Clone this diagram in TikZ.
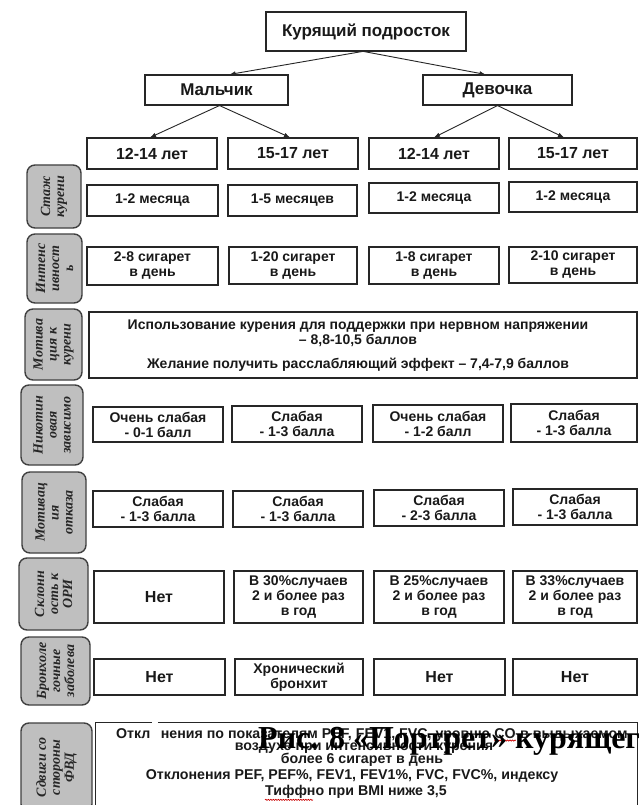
\documentclass[tikz,border=0pt]{standalone}
\usepackage{fontspec}
\setmainfont{Liberation Sans}
\newfontfamily\serifit{Liberation Serif}
\usetikzlibrary{arrows.meta,decorations.pathmorphing}
\newcommand\fsz[2]{\fontsize{#1}{#2}\selectfont\bfseries}
\tikzset{
  cell/.style={draw=black!85, line width=1.1pt, inner sep=1pt, align=center, text=black!90, font=\fsz{14}{15}},
  side/.style={draw=black!75, line width=1.4pt, fill=gray!50, rounded corners=8pt, rotate=90, align=center,
    inner sep=0pt, text=black!85, font=\serifit\bfseries\itshape\fontsize{14}{14}\selectfont},
  arr/.style={-{Latex[length=6pt,width=4.5pt]}, line width=0.9pt, draw=black!85},
  big/.style={font=\fsz{17}{19}},
  age/.style={font=\fsz{16}{18}},
  txt/.style={inner sep=0pt, text=black!90, font=\fsz{14}{15}},
  low/.style={inner sep=0pt, text=black!90, font=\fsz{14.2}{14}, anchor=base west},
  lowc/.style={inner sep=0pt, text=black!90, font=\fsz{14.2}{14}},
  wavy/.style={draw=red!80!black, line width=0.6pt, decorate, decoration={snake, amplitude=0.6pt, segment length=2.5pt}}
}
% \cbox[opts]{name}{x1}{x2}{y1}{y2}{text}
\newcommand\cbox[7][]{\node[cell, #1, minimum width={(#4-#3)*1pt}, minimum height={(#6-#5)*1pt}] (#2) at ({(#3+#4)/2},{(#5+#6)/2}) {#7};}
\newcommand\sidebox[6]{\node[side, minimum width={(#5-#4)*1pt}, minimum height={(#3-#2)*1pt}] (#1) at ({(#2+#3)/2},{(#4+#5)/2}) {#6};}
\begin{document}
\begin{tikzpicture}[x=1pt,y=-1pt]
\useasboundingbox (0,0) rectangle (638,805);
\clip (0,0) rectangle (638,805);
\fill[white] (0,0) rectangle (638,805);

% tree
\cbox[big]{top}{266}{466}{12}{51}{Курящий подросток}
\cbox[big]{boy}{145}{288}{75}{105}{Мальчик}
\cbox[big]{girl}{423}{572}{75}{105}{Девочка}
\cbox[age]{a1}{87}{217}{138}{169}{12-14 лет}
\cbox[age]{a2}{228}{358}{138}{169}{15-17 лет}
\cbox[age]{a3}{369}{499}{138}{169}{12-14 лет}
\cbox[age]{a4}{509}{637}{138}{169}{15-17 лет}

\draw[arr] ([xshift=-4pt]top.south) -- ([xshift=13pt]boy.north);
\draw[arr] ([xshift=-2pt]top.south) -- ([xshift=-12pt]girl.north);
\draw[arr] ([xshift=3pt]boy.south) -- ([xshift=-2pt]a1.north);
\draw[arr] ([xshift=3pt]boy.south) -- ([xshift=-3pt]a2.north);
\draw[arr] (girl.south) -- (a3.north);
\draw[arr] (girl.south) -- ([xshift=-9pt]a4.north);

% row 2
\cbox{b1}{87}{218}{185}{216}{1-2 месяца}
\cbox{b2}{228}{357}{185}{216}{1-5 месяцев}
\cbox{b3}{369}{499}{183}{213}{1-2 месяца}
\cbox{b4}{509}{637}{182}{212}{1-2 месяца}
% row 3
\cbox{c1}{87}{218}{247}{285}{2-8 сигарет\\в день}
\cbox{c2}{229}{357}{247}{284}{1-20 сигарет\\в день}
\cbox{c3}{369}{499}{247}{284}{1-8 сигарет\\в день}
\cbox{c4}{509}{637}{247}{283}{2-10 сигарет\\в день}
% row 4
\cbox{d}{89}{637}{312}{378}{}
\node[txt] (d1) at (358,326) {Использование курения для поддержки при нервном напряжении};
\node[txt] (d2) at (358,340) {– 8,8-10,5 баллов};
\node[txt] (d3) at (358,365) {Желание получить расслабляющий эффект – 7,4-7,9 баллов};
% row 5
\cbox{e1}{93}{223}{407}{442}{Очень слабая\\- 0-1 балл}
\cbox{e2}{232}{362}{406}{442}{Слабая\\- 1-3 балла}
\cbox{e3}{373}{503}{405}{442}{Очень слабая\\- 1-2 балл}
\cbox{e4}{511}{637}{404}{442}{Слабая\\- 1-3 балла}
% row 6
\cbox{f1}{93}{223}{491}{527}{Слабая\\- 1-3 балла}
\cbox{f2}{233}{363}{491}{527}{Слабая\\- 1-3 балла}
\cbox{f3}{374}{504}{490}{526}{Слабая\\- 2-3 балла}
\cbox{f4}{513}{637}{489}{525}{Слабая\\- 1-3 балла}
% row 7
\cbox[age]{g1}{94}{224}{571}{623}{Нет}
\cbox{g2}{234}{363}{571}{623}{В 30\%случаев\\2 и более раз\\в год}
\cbox{g3}{374}{504}{571}{623}{В 25\%случаев\\2 и более раз\\в год}
\cbox{g4}{513}{637}{571}{623}{В 33\%случаев\\2 и более раз\\в год}
% row 8
\cbox[age]{h1}{94}{225}{659}{695}{Нет}
\cbox{h2}{235}{363}{659}{695}{Хронический\\бронхит}
\cbox[age]{h3}{374}{505}{659}{695}{Нет}
\cbox[age]{h4}{513}{637}{659}{695}{Нет}
% row 9
\node[minimum width=541pt, minimum height=90pt, inner sep=0pt] (k) at (366.5,768) {};
\draw[draw=black!85, line width=1.1pt] (k.south west) -- (k.north west) -- ([xshift=56pt]k.north west);
\draw[draw=black!85, line width=1.1pt] ([xshift=62pt]k.north west) -- (k.north east) -- (k.south east);
\node[low] (k1a) at (116,738) {Откл};
\node[low] (k1b) at ([xshift=10pt]k1a.base east) {нения по показателям PEF, FEV1, FVC, уровню};
\node[low] (k1c) at ([xshift=4pt]k1b.base east) {CO};
\node[low] (k1d) at ([xshift=4pt]k1c.base east) {в выдыхаемом};
\node[lowc] (k2) at (364,748) {воздухе при интенсивности курения};
\node[lowc] (k3) at (362,760) {более 6 сигарет в день};
\node[lowc] (k4) at (352,776) {Отклонения PEF, PEF\%, FEV1, FEV1\%, FVC, FVC\%, индексу};
\node[lowc] (k5) at (356,792) {Тиффно при BMI ниже 3,5};
\draw[wavy] ([yshift=-2.5pt]k1c.base west) -- ([yshift=-2.5pt]k1c.base east);
\draw[wavy] ([yshift=-1pt]k5.south west) -- ([xshift=48pt,yshift=-1pt]k5.south west);

% side labels
\sidebox{s1}{27}{81}{165}{228}{Стаж\\курени}
\sidebox{s2}{27}{82}{234}{303}{Интенс\\ивност\\ь}
\sidebox{s3}{25}{82}{309}{380}{Мотива\\ция к\\курени}
\sidebox{s4}{21}{83}{385}{465}{Никотин\\овая\\зависимо}
\sidebox{s5}{22}{86}{472}{553}{Мотивац\\ия\\отказа}
\sidebox{s6}{19}{88}{558}{630}{Склонн\\ость к\\ОРИ}
\sidebox{s7}{21}{90}{637}{705}{Бронхоле\\гочные\\заболева}
\sidebox{s8}{21}{92}{723}{812}{Сдвиги со\\стороны\\ФВД}

% overlaid caption
\node[anchor=base west, inner sep=0pt, text=black, font=\serifit\bfseries\fontsize{32}{34}\selectfont] (cap) at (258,748) {Рис. 8 «Портрет» курящег};
\end{tikzpicture}
\end{document}
